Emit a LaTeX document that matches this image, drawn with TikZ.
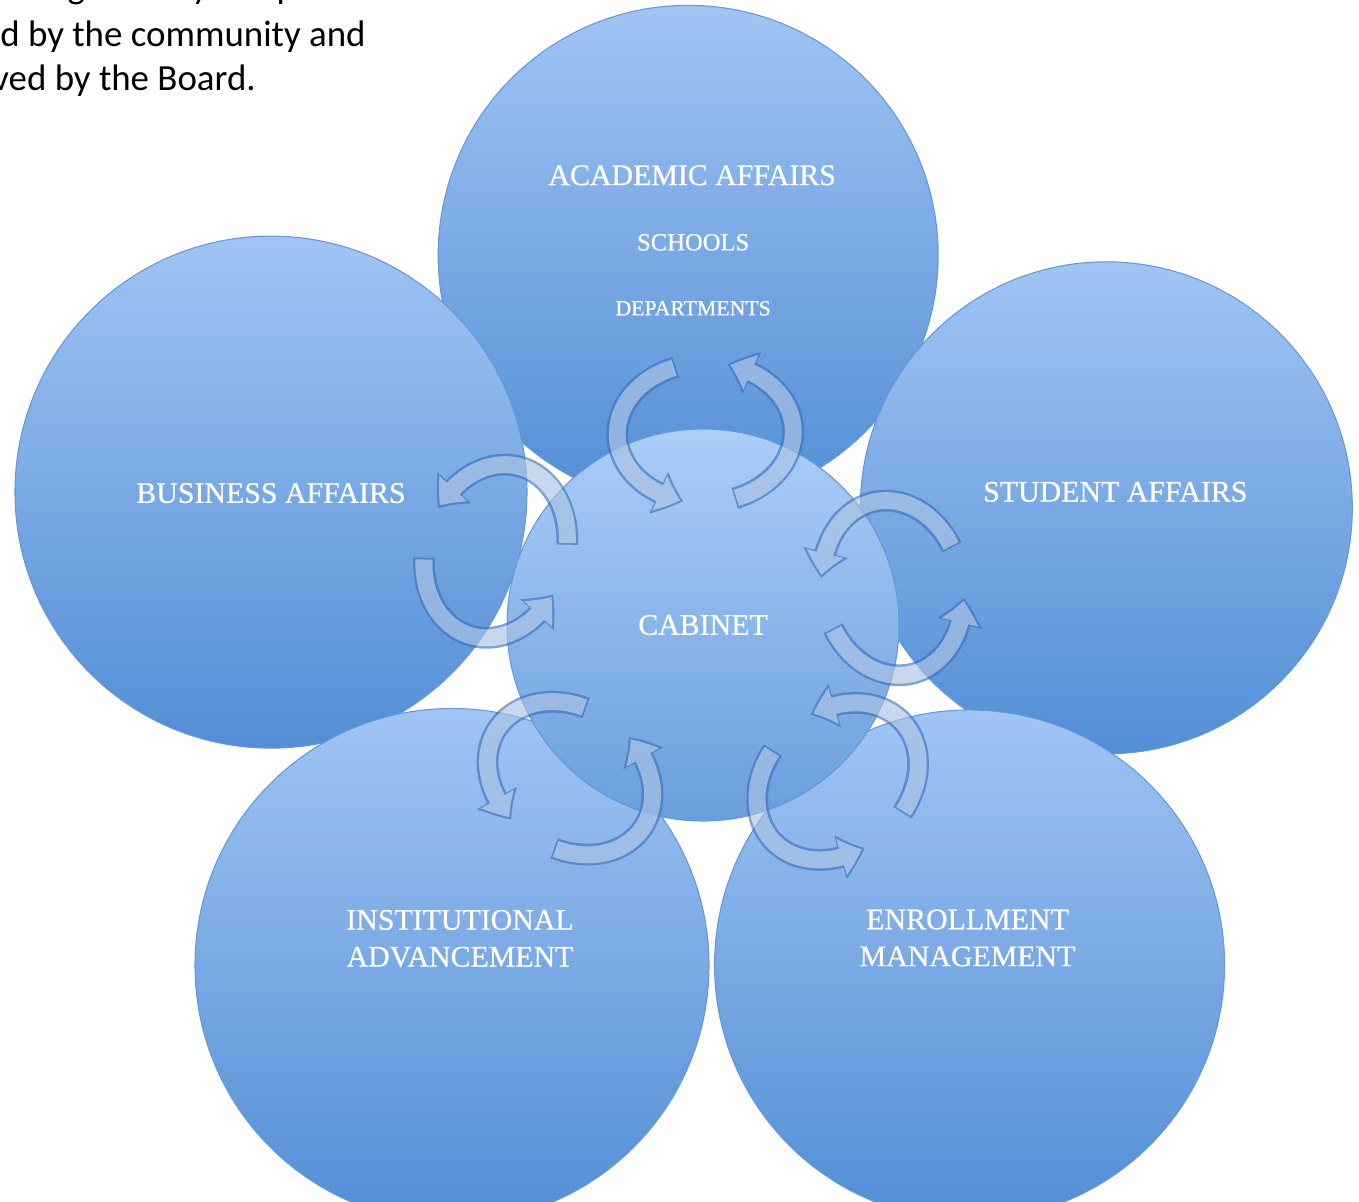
\documentclass[tikz,border=0pt]{standalone}
\usepackage{fontspec}
\setmainfont{Liberation Serif}
\newfontfamily\tagfont{Liberation Serif}[FakeBold=0.6]
\newfontfamily\notefont{Carlito}
\usetikzlibrary{arrows.meta,bending,calc}

\definecolor{ringtop}{RGB}{160,196,244}
\definecolor{ringbot}{RGB}{82,142,213}
\definecolor{ringedge}{RGB}{100,152,214}
\definecolor{hubtop}{RGB}{172,205,247}
\definecolor{hubbot}{RGB}{104,158,222}
\definecolor{loopline}{RGB}{62,116,190}
\definecolor{loopbody}{RGB}{172,194,226}

% two bent arrows round a point, turned towards the outer circle
\newcommand{\looppair}[2]{%
  \begin{scope}[shift={(#1)}, rotate=#2, transparency group, opacity=0.66]
    \draw [loopedge] (18:70 and 88) arc [start angle=18, end angle=164, x radius=70, y radius=88];
    \draw [loopfill] (18:70 and 88) arc [start angle=18, end angle=164, x radius=70, y radius=88];
    \draw [loopedge] (198:70 and 88) arc [start angle=198, end angle=344, x radius=70, y radius=88];
    \draw [loopfill] (198:70 and 88) arc [start angle=198, end angle=344, x radius=70, y radius=88];
  \end{scope}}

\begin{document}
\begin{tikzpicture}[
    x=0.2mm, y=0.2mm,
    unit/.style={%
      circle,
      draw=ringedge,
      line width=0.6pt,
      top color=ringtop,
      bottom color=ringbot,
      inner sep=0pt,
      outer sep=0pt,
    },
    hub/.style={%
      unit,
      top color=hubtop,
      bottom color=hubbot,
    },
    tag/.style={%
      text=white,
      align=center,
      font=\tagfont\fontsize{17}{21}\selectfont,
    },
    note/.style={%
      anchor=base west,
      inner sep=0pt,
      font=\notefont\fontsize{21}{25}\selectfont,
    },
    loopedge/.style={%
      draw=loopline,
      line width=12.4pt,
      -{Triangle[width=25pt,length=15pt,bend]},
    },
    loopfill/.style={%
      draw=loopbody,
      line width=9.6pt,
      shorten >=1.8pt,
      shorten <=1pt,
      -{Triangle[width=20.5pt,length=12.5pt,bend]},
    },
  ]
    \useasboundingbox (0,0) rectangle (1359,-1201);
    \clip (0,0) rectangle (1359,-1201);

    \node [note] (noteA) at (20,1) {ding to carry out policies};
    \node [note] (noteB) at (0,-47) {d by the community and};
    \node [note] (noteC) at (-8,-91) {ved by the Board.};

    \coordinate (middle) at (703,-625);
    \path (middle) ++(92.3:370) node [unit, minimum size=100mm] (academic) {};
    \path (middle) ++(162.9:452) node [unit, minimum size=102.4mm] (business) {};
    \path (middle) ++(16.2:420) node [unit, minimum size=98.4mm] (student) {};
    \path (middle) ++(233.6:423) node [unit, minimum size=102.8mm] (institutional) {};
    \path (middle) ++(-51.9:432) node [unit, minimum size=102mm] (enrollment) {};
    \node [hub, minimum size=78.4mm] (cabinet) at (middle) {};

    \path (academic) ++(4,80) node [tag] (academicTag) {ACADEMIC AFFAIRS};
    \path (academic) ++(5,13) node [tag, font=\tagfont\fontsize{14}{17}\selectfont] (schoolsTag) {SCHOOLS};
    \path (academic) ++(5,-53) node [tag, font=\tagfont\fontsize{12.4}{15}\selectfont] (departmentsTag) {DEPARTMENTS};
    \path (business) ++(0,-1) node [tag] (businessTag) {BUSINESS AFFAIRS};
    \path (student) ++(9,16) node [tag] (studentTag) {STUDENT AFFAIRS};
    \path (institutional) ++(8,27) node [tag] (institutionalTag) {INSTITUTIONAL\\ADVANCEMENT};
    \path (enrollment) ++(-2,27) node [tag] (enrollmentTag) {ENROLLMENT\\MANAGEMENT};
    \node [tag] (cabinetTag) at (cabinet) {CABINET};

    \coordinate (academicLoop) at ($(cabinet)!0.52!(academic)+(10,0)$);
    \coordinate (businessLoop) at ($(cabinet)!0.48!(business)+(0,10)$);
    \coordinate (studentLoop) at ($(cabinet)!0.47!(student)+(0,-18)$);
    \coordinate (institutionalLoop) at ($(cabinet)!0.45!(institutional)+(-20,0)$);
    \coordinate (enrollmentLoop) at ($(cabinet)!0.46!(enrollment)+(12,0)$);

    \looppair{academicLoop}{92}
    \looppair{businessLoop}{163}
    \looppair{studentLoop}{12}
    \looppair{institutionalLoop}{235}
    \looppair{enrollmentLoop}{-48}
\end{tikzpicture}
\end{document}
